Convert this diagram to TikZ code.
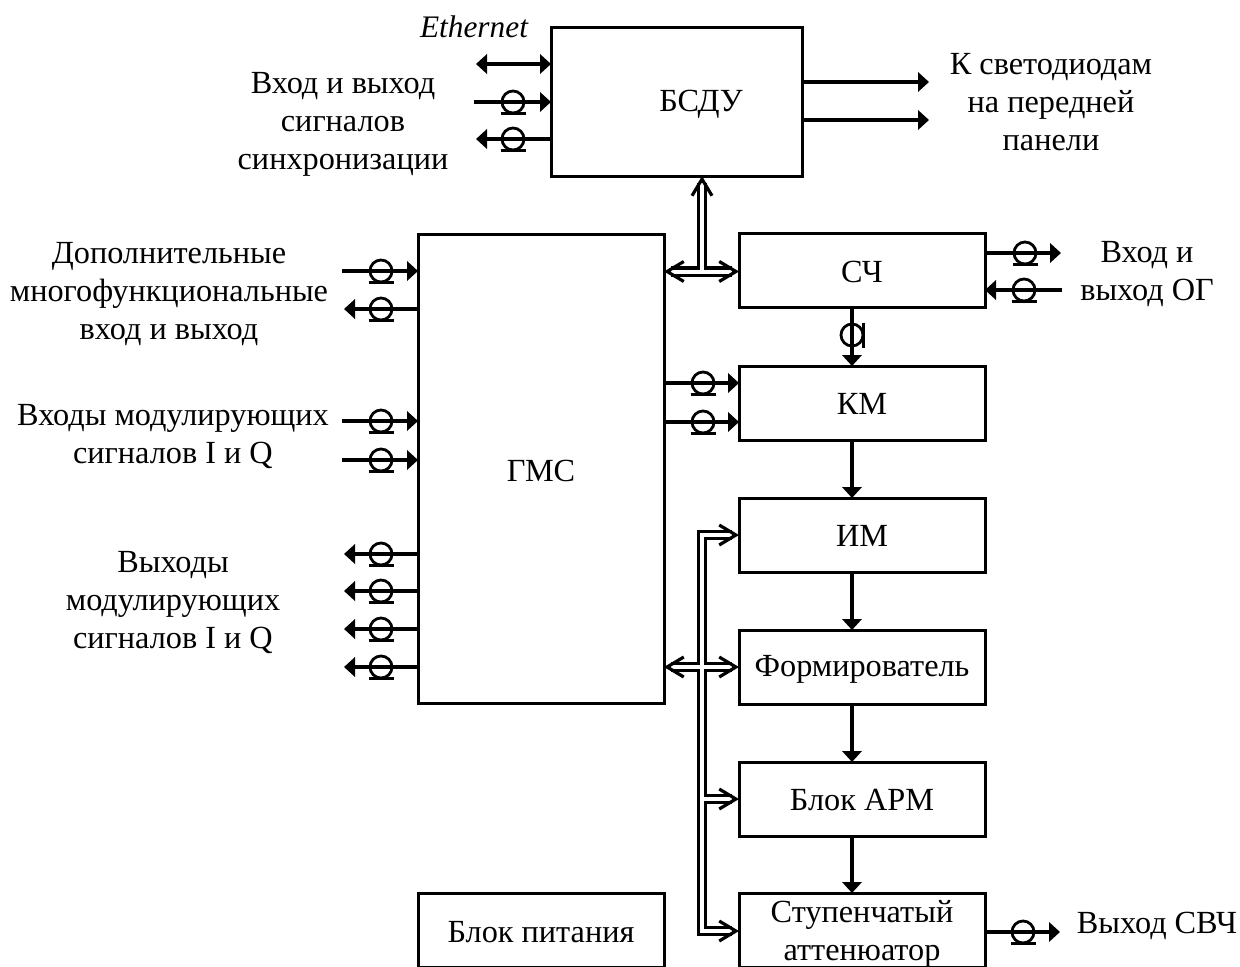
\documentclass[tikz,border=0pt]{standalone}
\usepackage{fontspec}
\setmainfont{Liberation Serif}
\usetikzlibrary{arrows.meta,calc}
\tikzset{
  x=0.75pt,y=-0.75pt,
  blockbox/.style={draw=black,line width=2.25pt,inner sep=0pt,outer sep=0pt,align=center,minimum width=184.5pt,minimum height=55.5pt},
  lbl/.style={inner sep=0pt,align=center},
  sig/.style={line width=2.4pt,-{Triangle[length=8.25pt,width=14.5pt]}},
  sigboth/.style={line width=2.4pt,{Triangle[length=8.25pt,width=14.5pt]}-{Triangle[length=8.25pt,width=14.5pt]}},
  busout/.style={line width=8pt,black,miter limit=10},
  busin/.style={line width=3pt,white,miter limit=10},
  bustip/.style={line width=2.4pt,-{Straight Barb[length=12.5pt,width=15pt]}},
  coaxh/.pic={\draw[line width=2.1pt] (0,0) circle[radius=11];
              \draw[line width=2.1pt] (-12.5,11.5) -- (12.5,11.5);},
  coaxv/.pic={\draw[line width=2.1pt] (0,0) circle[radius=11];
              \draw[line width=2.1pt] (11.5,-12.5) -- (11.5,12.5);},
}
\newcommand{\busmain}[1]{\draw[busout] #1;}
\newcommand{\buscore}[1]{\draw[busin] #1;}
\begin{document}
\begin{tikzpicture}
\fontsize{24.2}{28.5}\selectfont
\useasboundingbox (0,0) rectangle (1240,967);
% blocks
\node[blockbox,minimum width=188.25pt,minimum height=111.75pt] (bsdu) at (676.5,101.5) {};
\node[blockbox,minimum height=351.75pt] (gms) at (541,468.5) {};
\node[blockbox] (sch) at (862,270.5) {};
\node[blockbox] (km) at (862,403) {};
\node[blockbox] (im) at (862,535) {};
\node[blockbox] (form) at (862,667) {};
\node[blockbox] (arm) at (862,799) {};
\node[blockbox] (att) at (862,930) {};
\node[blockbox] (pit) at (541,930) {};
% block labels
\node[lbl] (tbsdu) at (701,104) {БСДУ};
\node[lbl] (tgms) at (541,471) {ГМС};
\node[lbl] (tsch) at (862,272) {СЧ};
\node[lbl] (tkm) at (862,404) {КМ};
\node[lbl] (tim) at (862,536) {ИМ};
\node[lbl] (tform) at (862,669) {Формирователь};
\node[lbl] (tarm) at (862,800) {Блок АРМ};
\node[lbl] (tatt) at (862,934) {Ступенчатый\\аттенюатор};
\node[lbl] (tpit) at (541,932) {Блок питания};
% labels
\node[lbl,font=\itshape\fontsize{23.5}{28.5}\selectfont] (eth) at (474,27) {Ethernet};
\node[lbl] (sync) at (343,124) {Вход и выход\\сигналов\\синхронизации};
\node[lbl] (led) at (1051,102) {К светодиодам\\на передней\\панели};
\node[lbl] (dop) at (169,294) {Дополнительные\\многофункциональные\\вход и выход};
\node[lbl] (vh) at (173,437) {Входы модулирующих\\сигналов I и Q};
\node[lbl] (vyh) at (173,603) {Выходы\\модулирующих\\сигналов I и Q};
\node[lbl] (og) at (1147,274) {Вход и\\выход ОГ};
\node[lbl] (svch) at (1157,926) {Выход СВЧ};
% free ends
\coordinate (e1) at (476,64);
\coordinate (e2) at (474,102);
\coordinate (e3) at (476,139);
\coordinate (l1) at (929,82);
\coordinate (l2) at (929,120);
\coordinate (o1) at (1061,253);
\coordinate (o2) at (1062,290);
\coordinate (d1) at (342,271);
\coordinate (d2) at (344,309);
\coordinate (i1) at (342,421);
\coordinate (i2) at (342,460);
\coordinate (q1) at (344,554);
\coordinate (q2) at (344,591);
\coordinate (q3) at (344,629);
\coordinate (q4) at (344,667);
\coordinate (s1) at (1060,932);
% signal connectors
\draw[sigboth] (e1) -- (e1 -| bsdu.west);
\draw[sig] (e2) -- (e2 -| bsdu.west);
\draw[sig] (e3 -| bsdu.west) -- (e3);
\draw[sig] (l1 -| bsdu.east) -- (l1);
\draw[sig] (l2 -| bsdu.east) -- (l2);
\draw[sig] (o1 -| sch.east) -- (o1);
\draw[sig] (o2) -- (o2 -| sch.east);
\draw[sig] (d1) -- (d1 -| gms.west);
\draw[sig] (d2 -| gms.west) -- (d2);
\draw[sig] (i1) -- (i1 -| gms.west);
\draw[sig] (i2) -- (i2 -| gms.west);
\draw[sig] (q1 -| gms.west) -- (q1);
\draw[sig] (q2 -| gms.west) -- (q2);
\draw[sig] (q3 -| gms.west) -- (q3);
\draw[sig] (q4 -| gms.west) -- (q4);
\draw[sig] (s1 -| att.east) -- (s1);
\coordinate (k1) at (703,383);
\coordinate (k2) at (703,422);
\draw[sig] (k1 -| gms.east) -- (k1 -| km.west);
\draw[sig] (k2 -| gms.east) -- (k2 -| km.west);
\draw[sig] (sch.south -| 852,0) -- (km.north -| 852,0);
\draw[sig] (km.south -| 852,0) -- (im.north -| 852,0);
\draw[sig] (im.south -| 852,0) -- (form.north -| 852,0);
\draw[sig] (form.south -| 852,0) -- (arm.north -| 852,0);
\draw[sig] (arm.south -| 852,0) -- (att.north -| 852,0);
% coax symbols
\foreach \p in {(513,102),(513,139),(1025,253),(1024,290),(381,271),(381,309),(381,421),(381,460),(381,554),(381,591),(381,629),(381,667),(703,383),(703,422),(1023,932)}
  \pic at \p {coaxh};
\pic at (852,335) {coaxv};
% double buses
\coordinate (ta) at (702,183);
\coordinate (ya) at (702,271.5);
\coordinate (yb) at (702,667);
\coordinate (yc) at (702,535);
\coordinate (yd) at (702,799);
\coordinate (ye) at (702,931);
\busmain{(ta) -- (ya)}
\busmain{($(ya -| gms.east)+(7,0)$) -- ($(ya -| sch.west)+(-7,0)$)}
\buscore{(ta) -- (ya)}
\buscore{($(ya -| gms.east)+(7,0)$) -- ($(ya -| sch.west)+(-7,0)$)}
\draw[bustip] (ta) -- (ta |- bsdu.south);
\draw[bustip] ($(ya -| gms.east)+(7,0)$) -- (ya -| gms.east);
\draw[bustip] ($(ya -| sch.west)+(-7,0)$) -- (ya -| sch.west);
\busmain{($(yc -| im.west)+(-7,0)$) -- (yc) -- (ye) -- ($(ye -| att.west)+(-7,0)$)}
\busmain{($(yb -| gms.east)+(7,0)$) -- ($(yb -| form.west)+(-7,0)$)}
\busmain{(yd) -- ($(yd -| arm.west)+(-7,0)$)}
\buscore{($(yc -| im.west)+(-7,0)$) -- (yc) -- (ye) -- ($(ye -| att.west)+(-7,0)$)}
\buscore{($(yb -| gms.east)+(7,0)$) -- ($(yb -| form.west)+(-7,0)$)}
\buscore{(yd) -- ($(yd -| arm.west)+(-7,0)$)}
\draw[bustip] ($(yc -| im.west)+(-7,0)$) -- (yc -| im.west);
\draw[bustip] ($(yb -| gms.east)+(7,0)$) -- (yb -| gms.east);
\draw[bustip] ($(yb -| form.west)+(-7,0)$) -- (yb -| form.west);
\draw[bustip] ($(yd -| arm.west)+(-7,0)$) -- (yd -| arm.west);
\draw[bustip] ($(ye -| att.west)+(-7,0)$) -- (ye -| att.west);
\end{tikzpicture}
\end{document}
